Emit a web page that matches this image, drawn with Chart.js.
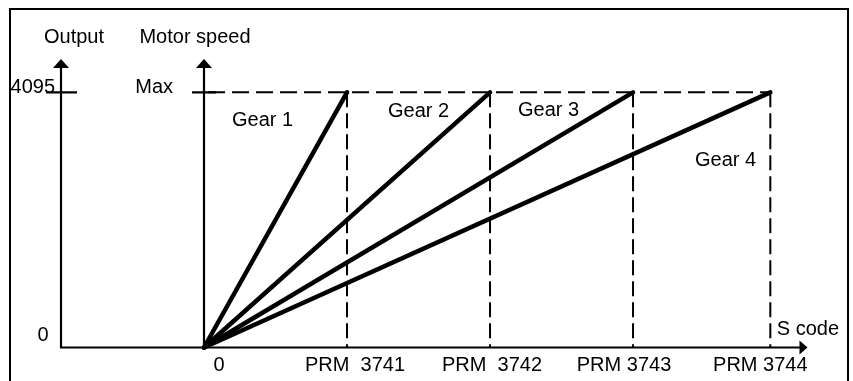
<!DOCTYPE html>
<html>
<head>
<meta charset="utf-8">
<script src="https://cdn.jsdelivr.net/npm/chart.js@4/dist/chart.umd.min.js"></script>
<style>
	body { margin: 0; background: #fff; }
	canvas { display: block; }
</style>
</head>
<body>
<canvas id="gearChart" width="853" height="381"></canvas>
<script>
// S code reached at max output for each gear (PRM 3741..3744)
const gearSCodes = [1000, 2000, 3000, 3960]
const gearNames = ["Gear 1", "Gear 2", "Gear 3", "Gear 4"]
const prmLabels = ["PRM  3741", "PRM  3742", "PRM 3743", "PRM 3744"]
const maxOutput = 4095
const outputLabels = ["0", "4095"]

const FONT = "20px 'Liberation Sans', Arial, sans-serif"

// where the gear names sit, in chart units (left edge, baseline)
const gearLabelPos = [
	{ x: 196, y: 3557 },
	{ x: 1287, y: 3701 },
	{ x: 2196, y: 3722 },
	{ x: 3433, y: 2916 }
]
// horizontal nudge of each PRM label from its dashed line
const prmLabelShift = [8, 2, -9, -10]

const datasets = []

gearSCodes.forEach((s, i) => {
	datasets.push({
		label: gearNames[i],
		data: [{ x: 0, y: 0 }, { x: s, y: maxOutput }],
		borderColor: "#000",
		borderWidth: 4.5,
		borderCapStyle: "round",
		pointRadius: 0,
		order: 0
	})
	datasets.push({
		label: prmLabels[i],
		data: [{ x: s, y: maxOutput }, { x: s, y: 0 }],
		borderColor: "#000",
		borderWidth: 2,
		borderDash: [15, 6],
		pointRadius: 0,
		order: 1
	})
})

datasets.push({
	label: "Max",
	data: [{ x: 0, y: maxOutput }, { x: gearSCodes[3], y: maxOutput }],
	borderColor: "#000",
	borderWidth: 2,
	borderDash: [17, 7],
	borderDashOffset: 20,
	pointRadius: 0,
	order: 1
})

function arrowUp(ctx, x, y) {
	ctx.beginPath()
	ctx.moveTo(x, y)
	ctx.lineTo(x - 8, y + 9)
	ctx.lineTo(x + 8, y + 9)
	ctx.closePath()
	ctx.fill()
}

function arrowRight(ctx, x, y) {
	ctx.beginPath()
	ctx.moveTo(x, y)
	ctx.lineTo(x - 8, y - 7)
	ctx.lineTo(x - 8, y + 7)
	ctx.closePath()
	ctx.fill()
}

const axesPlugin = {
	id: "axes",
	beforeDatasetsDraw(chart) {
		const ctx = chart.ctx
		const xs = chart.scales.x
		const ys = chart.scales.y
		const outX = xs.getPixelForValue(xs.min)
		const motorX = xs.getPixelForValue(0)
		const zeroY = ys.getPixelForValue(0)
		const topY = ys.getPixelForValue(ys.max)
		const endX = xs.getPixelForValue(xs.max)
		const maxY = ys.getPixelForValue(maxOutput)

		ctx.save()
		// frame
		ctx.strokeStyle = "#000"
		ctx.lineWidth = 2
		ctx.strokeRect(10, 9, 838, 420)

		ctx.lineWidth = 2.2
		ctx.beginPath()
		ctx.moveTo(outX, topY + 6)
		ctx.lineTo(outX, zeroY)
		ctx.lineTo(endX - 6, zeroY)
		ctx.moveTo(motorX, topY + 6)
		ctx.lineTo(motorX, zeroY)
		// ticks at full scale
		ctx.moveTo(outX - 15, maxY)
		ctx.lineTo(outX + 16, maxY)
		ctx.moveTo(motorX - 12, maxY)
		ctx.lineTo(motorX + 12, maxY)
		ctx.stroke()

		ctx.fillStyle = "#000"
		arrowUp(ctx, outX, topY)
		arrowUp(ctx, motorX, topY)
		arrowRight(ctx, endX, zeroY)
		ctx.restore()
	},
	afterDatasetsDraw(chart) {
		const ctx = chart.ctx
		const xs = chart.scales.x
		const ys = chart.scales.y
		const outX = xs.getPixelForValue(xs.min)
		const motorX = xs.getPixelForValue(0)
		const zeroY = ys.getPixelForValue(0)
		const maxY = ys.getPixelForValue(maxOutput)

		ctx.save()
		ctx.fillStyle = "#000"
		ctx.font = FONT
		ctx.textBaseline = "alphabetic"

		ctx.textAlign = "center"
		ctx.fillText("Output", outX + 13, 42.5)
		ctx.fillText("Motor speed", motorX - 9, 42.5)
		ctx.fillText(outputLabels[0], outX - 18, zeroY - 7)
		ctx.fillText("0", motorX + 15, zeroY + 23.5)
		gearSCodes.forEach((s, i) => {
			ctx.fillText(prmLabels[i], xs.getPixelForValue(s) + prmLabelShift[i], zeroY + 23.5)
		})

		ctx.textAlign = "right"
		ctx.fillText(outputLabels[1], outX - 6, maxY + 0.5)
		ctx.fillText("Max", motorX - 31, maxY + 0.5)

		ctx.textAlign = "left"
		ctx.fillText("S code", xs.getPixelForValue(gearSCodes[3]) + 6.5, zeroY - 12.5)
		gearLabelPos.forEach((p, i) => {
			ctx.fillText(gearNames[i], xs.getPixelForValue(p.x), ys.getPixelForValue(p.y))
		})
		ctx.restore()
	}
}

new Chart(
	document.getElementById("gearChart"),
	{
		type: "scatter",
		data: { datasets: datasets },
		options: {
			responsive: false,
			animation: false,
			showLine: true,
			clip: false,
			layout: {
				padding: { left: 61, right: 45.5, top: 59, bottom: 33.5 }
			},
			scales: {
				x: { type: "linear", min: -1000, max: 4220, display: false },
				y: { type: "linear", min: 0, max: 4630, display: false }
			},
			plugins: {
				legend: { display: false },
				tooltip: { enabled: false }
			}
		},
		plugins: [axesPlugin]
	}
)
</script>
</body>
</html>
